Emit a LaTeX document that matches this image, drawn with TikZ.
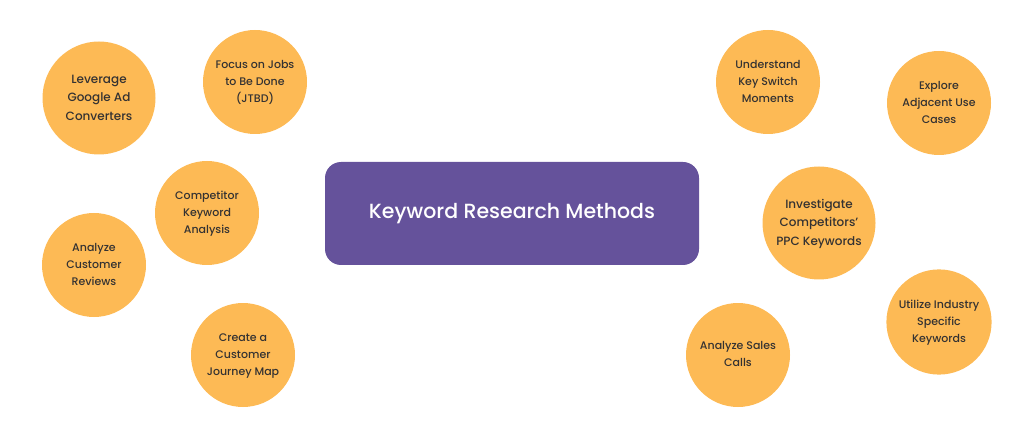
\documentclass[tikz,border=0pt]{standalone}
\usepackage{fontspec}
\setmainfont{Poppins}[BoldFont={Poppins Medium}]
\usepackage{tikz}
\usetikzlibrary{shapes}
\definecolor{mypurple}{RGB}{101, 82, 155}
\definecolor{myorange}{RGB}{253, 186, 85}
\definecolor{mytext}{RGB}{52, 50, 50}

\begin{document}
\begin{tikzpicture}[x=1pt,y=-1pt]

\tikzstyle{title_block} = [fill=mypurple, rounded corners=16, minimum width=374, minimum height=103,
text=white, font=\bfseries\fontsize{20.5}{25}\selectfont]
\tikzstyle{dot} = [circle, fill=myorange, inner sep=0, minimum size=104, text=mytext,
font=\bfseries\fontsize{11}{17}\selectfont]
\tikzstyle{big_dot} = [dot, minimum size=113, font=\bfseries\fontsize{12}{18.5}\selectfont]

\useasboundingbox (0,0) rectangle (1024,427);

\node [title_block] (methods) at (512,213.5) {Keyword Research Methods};

% left side
\node [big_dot] (leverage) at (99,98) {\begin{tabular}{c} Leverage\\ Google Ad\\ Converters\end{tabular}};
\node [dot] (jobs) at (255,82) {\begin{tabular}{c} Focus on Jobs\\ to Be Done\\ (JTBD)\end{tabular}};
\node [dot] (competitor) at (207,213) {\begin{tabular}{c} Competitor\\ Keyword\\ Analysis\end{tabular}};
\node [dot] (reviews) at (94,265) {\begin{tabular}{c} Analyze\\ Customer\\ Reviews\end{tabular}};
\node [dot] (journey) at (243,355) {\begin{tabular}{c} Create a\\ Customer\\ Journey Map\end{tabular}};

% right side
\node [dot] (switch) at (768,82) {\begin{tabular}{c} Understand\\ Key Switch\\ Moments\end{tabular}};
\node [dot] (adjacent) at (939,103) {\begin{tabular}{c} Explore\\ Adjacent Use\\ Cases\end{tabular}};
\node [big_dot] (ppc) at (819,223) {\begin{tabular}{c} Investigate\\ Competitors'\\ PPC Keywords\end{tabular}};
\node [dot] (industry) at (939,322) {\begin{tabular}{c} Utilize Industry\\ Specific\\ Keywords\end{tabular}};
\node [dot] (sales) at (738,355) {\begin{tabular}{c} Analyze Sales\\ Calls\end{tabular}};

\end{tikzpicture}
\end{document}
